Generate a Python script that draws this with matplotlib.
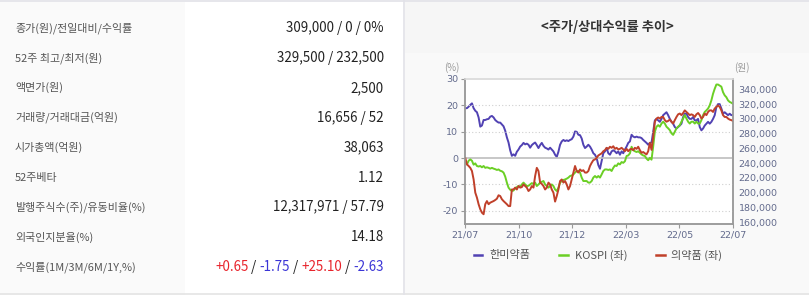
import numpy as np
import matplotlib
matplotlib.use('Agg')
import matplotlib.pyplot as plt
from matplotlib.patches import Rectangle
from matplotlib.lines import Line2D

plt.rcParams['font.family'] = ['Noto Sans CJK KR', 'DejaVu Sans']

# Summary table (left panel)
row_labels = ['종가(원)/전일대비/수익률', '52주 최고/최저(원)', '액면가(원)', '거래량/거래대금(억원)',
              '시가총액(억원)', '52주베타', '발행주식수(주)/유동비율(%)', '외국인지분율(%)',
              '수익률(1M/3M/6M/1Y,%)']
row_values = ['309,000 / 0 / 0%', '329,500 / 232,500', '2,500', '16,656 / 52',
              '38,063', '1.12', '12,317,971 / 57.79', '14.18', None]
returns = ['+0.65', '-1.75', '+25.10', '-2.63']

# Chart data: 한미약품 price (right axis, won), KOSPI and 의약품 relative return (left axis, %)
x_labels = ['21/07', '21/10', '21/12', '22/03', '22/05', '22/07']
hanmi = [314500, 314500, 316500, 319000, 321000, 314500, 311000, 309000, 302000, 289500,
         291000, 298500, 298500, 299500, 300000, 303000, 304000, 302000, 298500, 296500,
         295000, 295000, 292500, 290000, 284000, 275000, 268000, 257500, 250000, 252000,
         250000, 255500, 258500, 262500, 264500, 267500, 265500, 266500, 265000, 261000,
         264500, 266500,
         268000, 264500, 260500, 264500, 267500, 263500, 261000, 260000, 258500, 261000,
         258500, 256000, 251500, 248500, 255500, 265000, 269500, 271500, 270000, 271000,
         270000, 271500, 272500, 276000, 283000, 282500, 278500, 278000, 273500, 265000,
         260500, 262500, 265000, 262500, 258500, 253500, 251500, 247000,
         237500, 232500, 243000, 253500, 256000, 260500, 253500, 251500, 256000, 257500,
         256000, 253500, 256000, 251500, 256000, 253500, 258500, 262500, 267500, 269500,
         278500, 276000, 275000, 276000, 275000, 275000, 274000, 271500, 269500, 267500,
         265000, 267500,
         268000, 282500, 298000, 300000, 298000, 296000, 300000, 305000, 307000, 309000,
         305000, 300000, 296000, 293500, 289000, 287000, 289000, 291000, 293500, 302500,
         307000, 307000, 302500, 300000, 300000, 302500, 298000, 298000, 300000, 289000,
         284500, 287000, 291000, 293500, 296000, 293500, 296000, 300000, 305000, 316000,
         320000, 320000, 314000, 307000, 309000, 307000, 305000, 307000, 305000, 305500]
kospi = [-1.5, -2.4, -1, -0.5, -1, -2.5, -2, -3, -3.2, -3,
         -3.5, -3, -3.7, -3.5, -3.7, -4, -3.7, -4, -4.2, -4.5,
         -4.3, -4.8, -5, -5.5, -7, -9.3, -11.2, -12, -12.5, -12.3,
         -11.5, -11, -10.6, -10.8, -10, -9.3, -10, -10.6, -10.5, -10,
         -9.5, -9.8,
         -9.3, -10.6, -10, -9.3, -9, -8.7, -10, -10.6, -11.2, -10.6,
         -10, -10.6, -11.9, -12.5, -11.2, -9.3, -8.7, -8.3, -8.1, -7.8,
         -7.4, -6.8, -6.6, -6.2, -5.5, -4.9, -4.9, -5.5, -7.4, -8.7,
         -8.7, -8.7, -9.3, -9.3, -8.7, -7.4, -6.8, -7.4,
         -6.8, -7.4, -6.2, -4.9, -4.3, -4.3, -4.5, -4.3, -4.9, -3.7,
         -2.8, -3, -2, -2.4, -1.5, -1.8, -1.2, 0.8, 1, 1.8,
         4.3, 3, 2.6, 2.3, 2.6, 2, 1.4, 1, 0.8, -0.2,
         -0.8, 0.1,
         -0.6, 4.4, 10, 11.9, 12.5, 11.9, 13.1, 13.8, 13.1, 11.9,
         11.3, 10.6, 9.4, 8.8, 10, 11.3, 11.9, 12.5, 13.8, 15,
         16.3, 15, 13.8, 13.1, 13.8, 13.8, 13.1, 13.8, 13.1, 13.1,
         14.4, 16.3, 17.5, 18.1, 18.8, 20, 21.9, 24.4, 26.3, 27.9,
         27.9, 27.5, 27.1, 25, 23.8, 23.1, 21.9, 21.3, 21, 20.6]
pharma = [0, -2.4, -3, -3.7, -4.9, -8.1, -13.1, -15, -17.5, -19.4,
          -20.7, -21.3, -17.5, -16.3, -17.5, -16.9, -16.6, -16.3, -15.9, -15.4,
          -14.1, -14.4, -15.6, -16.3, -16.9, -17.5, -18.2, -18.2, -11.9, -11.9,
          -11.2, -11.9, -10.6, -11.2, -11, -10, -10.6, -11.2, -12.5, -11.9,
          -10.6, -11.2,
          -6.8, -3.7, -4.9, -9.3, -9.8, -10.6, -11.9, -11.2, -9.3, -10,
          -11.9, -13.1, -16.5, -14.4, -11.9, -8.7, -8.1, -9.3, -8.7, -10,
          -11.9, -10.6, -8.1, -5.5, -3, -4.9, -5.5, -4.3, -4.9, -4.6,
          -5.5, -5.5, -4.9, -3, -1.8, -0.8, -0.5, 0.1,
          1, 1.4, 1.8, 2.6, 3, 3.9, 3.5, 4.3, 3.9, 4.5,
          3.5, 3.9, 3.3, 3.5, 3.9, 3.3, 2.6, 3.5, 2.6, 3.3,
          3.5, 3, 3.9, 3.5, 4.3, 3, 2, 2.3, 1.8, 1.4,
          2.6, 5.8,
          3.1, 8.1, 13.8, 15, 15.4, 15, 15.6, 15.6, 14.4, 13.8,
          14.1, 14.6, 13.8, 13.1, 14.4, 15.6, 16.6, 16.9, 16.3, 17.1,
          18.1, 17.5, 16.9, 16.3, 16.6, 16.3, 15.6, 16.6, 17.1, 16.3,
          15, 15.6, 16.9, 16.3, 17.5, 18.1, 18.1, 17.5, 18.8, 19.4,
          20, 19.4, 18.1, 16.3, 15.6, 15.6, 15, 14.6, 14.4, 14.1]
series_names = ['한미약품', 'KOSPI (좌)', '의약품 (좌)']
series_colors = ['#5142b3', '#6bcf25', '#c0402a']

W, H = 809, 295
fig = plt.figure(figsize=(W / 100, H / 100), dpi=100, facecolor='white')

# Background layer in pixel coordinates
bg = fig.add_axes([0, 0, 1, 1])
bg.set_xlim(0, W)
bg.set_ylim(H, 0)
bg.axis('off')
bg.add_patch(Rectangle((0, 0), 185, H, color='#fafafa', lw=0))
bg.add_patch(Rectangle((405, 0), W - 405, H, color='#f9f9f9', lw=0))
bg.add_patch(Rectangle((405, 0), W - 405, 53, color='#f6f6f6', lw=0))
bg.plot([0, W], [0.8, 0.8], color='#e2e2e8', lw=1.2)
bg.plot([0, W], [294, 294], color='#e4e4e4', lw=1.2)
bg.plot([404, 404], [0, H], color='#e2e2e8', lw=1.2)

# Table rows
row_y = 28
for lab, val in zip(row_labels, row_values):
    bg.text(15, row_y, lab, ha='left', va='center', fontsize=7.9, color='#555555')
    if val is not None:
        bg.text(384, row_y, val, ha='right', va='center', fontsize=9.6, color='#222222')
    last_y = row_y
    row_y += 29.9

# Multi-coloured returns row, drawn right to left
renderer = fig.canvas.get_renderer()
pieces = []
for i, r in enumerate(returns):
    if i > 0:
        pieces.append((' / ', '#222222'))
    pieces.append((r, '#e8242c' if r.startswith('+') else '#3b35d6'))
xr = 384
for txt, col in reversed(pieces):
    t = bg.text(xr, last_y, txt, ha='right', va='center', fontsize=9.6, color=col)
    xr -= t.get_window_extent(renderer).width

# Chart title
bg.text(607, 27, '<주가/상대수익률 추이>', ha='center', va='center', fontsize=9.5,
        color='#333333', fontweight='bold')
bg.text(452, 68, '(%)', ha='center', va='center', fontsize=7, color='#9a9a9a')
bg.text(742, 68, '(원)', ha='center', va='center', fontsize=7, color='#9a9a9a')

# Chart axes
left, right, top, bottom = 465.3, 733, 79, 224
ax_p = fig.add_axes([left / W, 1 - bottom / H, (right - left) / W, (bottom - top) / H])
ax_p.set_facecolor('white')
ax_r = ax_p.twinx()

n = len(hanmi)
x = np.arange(n)
ax_p.plot(x, hanmi, color=series_colors[0], lw=1.4)
ax_r.plot(x, kospi, color=series_colors[1], lw=1.4)
ax_r.plot(x, pharma, color=series_colors[2], lw=1.4)

ax_p.set_xlim(0, n - 1)
ax_p.set_ylim(157700, 354000)
ax_r.set_ylim(-25, 30)

for lvl in [-20, -10, 10, 20]:
    ax_r.axhline(lvl, color='#cfcfcf', lw=0.8, ls=(0, (1, 2)), zorder=0)
ax_r.axhline(0, color='#bdbdbd', lw=1.2, zorder=0)

tick_color = '#626a8c'
ax_p.set_xticks(np.linspace(0, n - 1, len(x_labels)))
ax_p.set_xticklabels(x_labels, family='DejaVu Sans')
ax_p.yaxis.tick_right()
ax_p.set_yticks(np.arange(160000, 340001, 20000))
ax_p.set_yticklabels(['{:,}'.format(v) for v in range(160000, 340001, 20000)], family='DejaVu Sans')
ax_r.yaxis.tick_left()
ax_r.set_yticks([-20, -10, 0, 10, 20, 30])
ax_r.set_yticklabels(['-20', '-10', '0', '10', '20', '30'], family='DejaVu Sans')

ax_p.tick_params(axis='x', colors='#999999', labelcolor=tick_color, labelsize=6.8, length=3, pad=2)
ax_p.tick_params(axis='y', length=0, labelcolor=tick_color, labelsize=6.8, pad=4)
ax_r.tick_params(axis='y', colors='#999999', labelcolor=tick_color, labelsize=6.8, length=3, pad=2)

for a in (ax_p, ax_r):
    a.spines['left'].set_color('#9a9a9a')
    a.spines['bottom'].set_color('#9a9a9a')
    a.spines['right'].set_color('#9a9a9a')
    a.spines['top'].set_color('#dddddd')
    for s in a.spines.values():
        s.set_linewidth(1.1)

# Legend below the chart
handles = [Line2D([], [], color=c, lw=1.8) for c in series_colors]
fig.legend(handles, series_names, loc='center', bbox_to_anchor=(598 / W, 1 - 255 / H),
           ncol=3, frameon=False, fontsize=8, handlelength=0.8, handletextpad=0.6,
           columnspacing=2.6, labelcolor='#555555')

fig.savefig('out.png', dpi=100, facecolor=fig.get_facecolor())
